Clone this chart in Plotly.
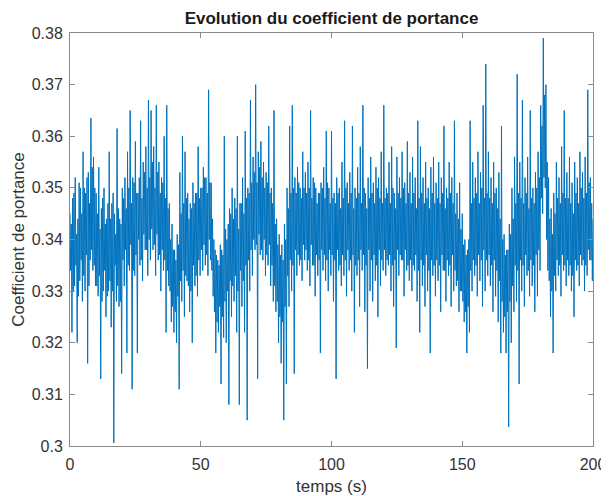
import plotly.graph_objects as go

# Time axis: regular sampling (s)
t_start = 0.0
t_step = 0.25

# Lift coefficient values (10 s per row)
cl_000 = [0.345,0.334,0.343,0.322, 0.348,0.330,0.349,0.331, 0.352,0.335,0.341,0.320, 0.344,0.329,0.351,0.332, 0.350,0.336,0.345,0.328, 0.357,0.333,0.350,0.330, 0.349,0.337,0.352,0.316, 0.353,0.331,0.347,0.336, 0.3635,0.338,0.354,0.334, 0.356,0.335,0.350,0.331]
cl_010 = [0.349,0.331,0.345,0.329, 0.354,0.333,0.342,0.313, 0.346,0.328,0.348,0.330, 0.350,0.334,0.343,0.325, 0.344,0.329,0.347,0.330, 0.357,0.332,0.344,0.323, 0.347,0.330,0.349,0.3006, 0.345,0.335,0.341,0.328, 0.3615,0.331,0.346,0.327, 0.344,0.328,0.343,0.314]
cl_020 = [0.350,0.336,0.348,0.331, 0.352,0.338,0.346,0.318, 0.357,0.335,0.350,0.334, 0.365,0.339,0.347,0.311, 0.352,0.334,0.351,0.333, 0.359,0.337,0.349,0.318, 0.349,0.340,0.352,0.335, 0.363,0.336,0.348,0.332, 0.355,0.341,0.353,0.338, 0.358,0.338,0.350,0.333]
cl_030 = [0.367,0.340,0.352,0.336, 0.365,0.342,0.355,0.338, 0.358,0.339,0.350,0.333, 0.366,0.341,0.353,0.336, 0.355,0.337,0.349,0.330, 0.352,0.338,0.351,0.334, 0.360,0.336,0.348,0.322, 0.366,0.334,0.346,0.331, 0.347,0.330,0.340,0.324, 0.343,0.327,0.338,0.322]
cl_040 = [0.338,0.326,0.336,0.320, 0.341,0.329,0.339,0.311, 0.353,0.332,0.345,0.328, 0.360,0.334,0.347,0.325, 0.357,0.333,0.348,0.332, 0.349,0.331,0.344,0.326, 0.347,0.330,0.346,0.320, 0.351,0.335,0.347,0.331, 0.349,0.333,0.349,0.329, 0.358,0.336,0.348,0.333]
cl_050 = [0.350,0.338,0.350,0.334, 0.354,0.339,0.352,0.335, 0.352,0.337,0.349,0.333, 0.369,0.340,0.351,0.336, 0.351,0.334,0.344,0.329, 0.340,0.326,0.338,0.318, 0.337,0.324,0.336,0.322, 0.335,0.327,0.339,0.312, 0.338,0.325,0.337,0.321, 0.360,0.328,0.342,0.320]
cl_060 = [0.340,0.330,0.343,0.308, 0.346,0.332,0.345,0.325, 0.350,0.331,0.344,0.328, 0.348,0.333,0.346,0.322, 0.360,0.330,0.342,0.308, 0.347,0.334,0.347,0.327, 0.352,0.332,0.345,0.322, 0.361,0.335,0.348,0.305, 0.350,0.336,0.349,0.330, 0.367,0.338,0.351,0.333]
cl_070 = [0.356,0.340,0.353,0.338, 0.370,0.339,0.351,0.313, 0.357,0.341,0.354,0.337, 0.359,0.338,0.352,0.336, 0.355,0.340,0.350,0.333, 0.353,0.337,0.351,0.335, 0.362,0.339,0.349,0.331, 0.350,0.335,0.347,0.328, 0.365,0.331,0.343,0.326, 0.344,0.328,0.339,0.320]
cl_080 = [0.341,0.325,0.337,0.316, 0.339,0.324,0.336,0.305, 0.343,0.327,0.340,0.312, 0.350,0.333,0.346,0.327, 0.362,0.336,0.349,0.330, 0.366,0.335,0.350,0.314, 0.352,0.338,0.349,0.333, 0.354,0.337,0.351,0.335, 0.350,0.336,0.348,0.332, 0.357,0.339,0.350,0.336]
cl_090 = [0.353,0.338,0.349,0.334, 0.355,0.336,0.350,0.331, 0.365,0.339,0.348,0.335, 0.352,0.335,0.351,0.329, 0.350,0.337,0.347,0.333, 0.349,0.336,0.349,0.318, 0.351,0.338,0.350,0.334, 0.354,0.337,0.348,0.332, 0.361,0.336,0.351,0.330, 0.350,0.338,0.347,0.333]
cl_100 = [0.361,0.337,0.348,0.328, 0.349,0.336,0.347,0.313, 0.352,0.338,0.349,0.334, 0.350,0.335,0.346,0.331, 0.355,0.337,0.348,0.333, 0.363,0.336,0.350,0.329, 0.351,0.338,0.347,0.334, 0.353,0.336,0.349,0.330, 0.362,0.337,0.346,0.322, 0.350,0.335,0.348,0.333]
cl_110 = [0.354,0.336,0.349,0.327, 0.358,0.338,0.347,0.334, 0.366,0.337,0.350,0.326, 0.349,0.335,0.346,0.315, 0.352,0.338,0.348,0.330, 0.356,0.336,0.349,0.328, 0.351,0.337,0.347,0.332, 0.354,0.335,0.350,0.325, 0.352,0.338,0.348,0.331, 0.357,0.336,0.347,0.334]
cl_120 = [0.366,0.338,0.348,0.333, 0.350,0.336,0.349,0.335, 0.355,0.337,0.347,0.330, 0.358,0.335,0.350,0.327, 0.349,0.336,0.346,0.319, 0.356,0.338,0.349,0.333, 0.352,0.337,0.348,0.336, 0.357,0.336,0.350,0.329, 0.351,0.338,0.347,0.334, 0.359,0.335,0.349,0.332]
cl_130 = [0.353,0.336,0.347,0.330, 0.356,0.335,0.349,0.334, 0.352,0.337,0.346,0.328, 0.363,0.334,0.348,0.322, 0.358,0.336,0.349,0.331, 0.352,0.335,0.347,0.327, 0.355,0.337,0.348,0.330, 0.350,0.334,0.346,0.318, 0.354,0.336,0.349,0.333, 0.356,0.335,0.347,0.329]
cl_140 = [0.351,0.336,0.348,0.332, 0.355,0.335,0.347,0.326, 0.352,0.337,0.349,0.334, 0.362,0.334,0.346,0.328, 0.350,0.336,0.348,0.333, 0.355,0.335,0.349,0.327, 0.352,0.337,0.347,0.330, 0.363,0.334,0.345,0.331, 0.349,0.332,0.344,0.326, 0.351,0.330,0.342,0.330]
cl_150 = [0.345,0.328,0.339,0.324, 0.340,0.326,0.337,0.318, 0.338,0.327,0.340,0.322, 0.363,0.334,0.347,0.330, 0.355,0.336,0.348,0.333, 0.352,0.335,0.349,0.329, 0.357,0.337,0.347,0.332, 0.353,0.336,0.350,0.327, 0.366,0.338,0.348,0.330, 0.374,0.336,0.349,0.333]
cl_160 = [0.357,0.337,0.348,0.331, 0.352,0.335,0.347,0.326, 0.355,0.336,0.349,0.329, 0.350,0.334,0.346,0.324, 0.353,0.332,0.344,0.318, 0.362,0.328,0.340,0.322, 0.341,0.325,0.337,0.318, 0.338,0.326,0.338,0.3037, 0.343,0.328,0.341,0.320, 0.350,0.331,0.344,0.326]
cl_170 = [0.356,0.335,0.347,0.328, 0.372,0.334,0.349,0.312, 0.355,0.336,0.348,0.330, 0.367,0.335,0.347,0.327, 0.352,0.337,0.349,0.333, 0.356,0.334,0.346,0.329, 0.365,0.336,0.348,0.331, 0.350,0.335,0.347,0.326, 0.353,0.337,0.350,0.329, 0.357,0.338,0.352,0.334]
cl_180 = [0.366,0.348,0.362,0.345, 0.379,0.352,0.368,0.350, 0.370,0.340,0.355,0.334, 0.352,0.332,0.344,0.325, 0.346,0.330,0.341,0.318, 0.349,0.333,0.345,0.330, 0.355,0.336,0.348,0.333, 0.352,0.335,0.347,0.329, 0.358,0.337,0.349,0.334, 0.365,0.335,0.348,0.331]
cl_190 = [0.353,0.336,0.348,0.333, 0.356,0.335,0.347,0.330, 0.351,0.333,0.345,0.325, 0.355,0.336,0.349,0.334, 0.352,0.335,0.347,0.331, 0.357,0.337,0.350,0.335, 0.353,0.336,0.348,0.330, 0.356,0.335,0.349,0.333, 0.369,0.338,0.351,0.336, 0.352,0.336,0.347,0.332, 0.344]

cl = (cl_000 + cl_010 + cl_020 + cl_030 + cl_040 + cl_050 + cl_060 + cl_070 + cl_080 + cl_090
      + cl_100 + cl_110 + cl_120 + cl_130 + cl_140 + cl_150 + cl_160 + cl_170 + cl_180 + cl_190)

x_ticks = [0, 50, 100, 150, 200]
y_ticks = [0.30, 0.31, 0.32, 0.33, 0.34, 0.35, 0.36, 0.37, 0.38]
y_tick_labels = ["0.3", "0.31", "0.32", "0.33", "0.34", "0.35", "0.36", "0.37", "0.38"]

FONT = "Liberation Sans, Arial, sans-serif"

fig = go.Figure()
fig.add_trace(go.Scatter(
    x0=t_start, dx=t_step, y=cl, mode="lines",
    line=dict(color="#0072BD", width=1.0),
    showlegend=False,
))

axis_common = dict(
    showgrid=False, zeroline=False, automargin=False,
    showline=True, linecolor="#8a8a8a", linewidth=1, mirror="ticks",
    ticks="inside", ticklen=5, tickcolor="#8a8a8a", tickwidth=1,
    tickfont=dict(family=FONT, size=16, color="#333333"),
)

fig.update_layout(
    width=609, height=496,
    margin=dict(l=62, r=24, t=25, b=58),
    paper_bgcolor="white", plot_bgcolor="white",
    title=dict(
        text="<b>Evolution du coefficient de portance</b>",
        x=(62 + (609 - 62 - 24) / 2) / 609, xanchor="center",
        y=0.98, yanchor="middle",
        font=dict(family=FONT, size=17, color="#1a1a1a"),
    ),
    xaxis=dict(
        range=[0, 200], tickvals=x_ticks, ticklabelstandoff=4,
        title=dict(text="temps (s)", standoff=7,
                   font=dict(family=FONT, size=17, color="#333333")),
        **axis_common,
    ),
    yaxis=dict(
        range=[0.3, 0.38], tickvals=y_ticks, ticktext=y_tick_labels, ticklabelstandoff=3,
        title=dict(text="Coefficient de portance", standoff=2,
                   font=dict(family=FONT, size=17, color="#333333")),
        **axis_common,
    ),
)

fig.write_html("out.html")
